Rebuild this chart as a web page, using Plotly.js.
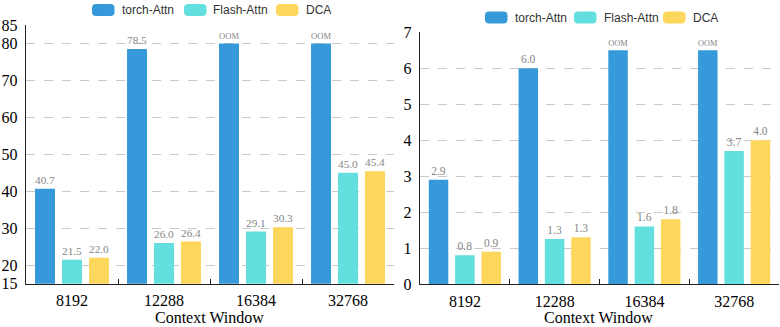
<!DOCTYPE html>
<html>
<head>
<meta charset="utf-8">
<script src="https://cdn.plot.ly/plotly-3.0.1.min.js"></script>
<style>html,body{margin:0;padding:0;background:#fff;}#chart{width:780px;height:327px;}</style>
</head>
<body>
<div id="chart"></div>
<script>
// ---- data ----
const categories = ['8192', '12288', '16384', '32768'];
const seriesNames = ['torch-Attn', 'Flash-Attn', 'DCA'];

const leftTorch = [40.7, 78.5, 80, 80];
const leftTorchText = ['40.7', '78.5', 'OOM', 'OOM'];
const leftFlash = [21.5, 26.0, 29.1, 45.0];
const leftFlashText = ['21.5', '26.0', '29.1', '45.0'];
const leftDCA = [22.0, 26.4, 30.3, 45.4];
const leftDCAText = ['22.0', '26.4', '30.3', '45.4'];

const rightTorch = [2.9, 6.0, 6.5, 6.5];
const rightTorchText = ['2.9', '6.0', 'OOM', 'OOM'];
const rightFlash = [0.8, 1.25, 1.6, 3.7];
const rightFlashText = ['0.8', '1.3', '1.6', '3.7'];
const rightDCA = [0.9, 1.3, 1.8, 4.0];
const rightDCAText = ['0.9', '1.3', '1.8', '4.0'];

const leftTickVals = [15, 20, 30, 40, 50, 60, 70, 80, 85];
const rightTickVals = [0, 1, 2, 3, 4, 5, 6, 7];
const xTitle = 'Context Window';

// ---- style ----
const colors = ['#369ADA', '#62DFDE', '#FDD65C'];
const W = 780, H = 327;
const px = x => x / W;
const py = y => 1 - y / H;
const serif = "'Liberation Serif', serif";
const sans = "'Liberation Sans', sans-serif";

function bar(name, y, text, i, xa, ya) {
  return {
    type: 'bar', name: name, x: categories, y: y, text: text,
    xaxis: xa, yaxis: ya, showlegend: false,
    marker: {color: colors[i], line: {width: 0}},
    textposition: 'outside', cliponaxis: false,
    textfont: {family: serif, size: 11.5, color: '#858585'},
    hoverinfo: 'x+y'
  };
}

const traces = [
  bar(seriesNames[0], leftTorch, leftTorchText, 0, 'x', 'y'),
  bar(seriesNames[1], leftFlash, leftFlashText, 1, 'x', 'y'),
  bar(seriesNames[2], leftDCA, leftDCAText, 2, 'x', 'y'),
  bar(seriesNames[0], rightTorch, rightTorchText, 0, 'x2', 'y2'),
  bar(seriesNames[1], rightFlash, rightFlashText, 1, 'x2', 'y2'),
  bar(seriesNames[2], rightDCA, rightDCAText, 2, 'x2', 'y2')
];

// custom legends (rounded swatches)
function roundRect(x0, y0, x1, y1, r) {
  const X = v => px(v), Y = v => py(v);
  return `M${X(x0 + r)},${Y(y0)} L${X(x1 - r)},${Y(y0)} Q${X(x1)},${Y(y0)} ${X(x1)},${Y(y0 + r)} ` +
         `L${X(x1)},${Y(y1 - r)} Q${X(x1)},${Y(y1)} ${X(x1 - r)},${Y(y1)} ` +
         `L${X(x0 + r)},${Y(y1)} Q${X(x0)},${Y(y1)} ${X(x0)},${Y(y1 - r)} ` +
         `L${X(x0)},${Y(y0 + r)} Q${X(x0)},${Y(y0)} ${X(x0 + r)},${Y(y0)} Z`;
}
const legendDefs = [
  {cy: 10, swatches: [92, 184, 276]},
  {cy: 17.5, swatches: [485, 574, 663]}
];
const shapes = [];
const annotations = [];
legendDefs.forEach(L => {
  L.swatches.forEach((sx, i) => {
    shapes.push({type: 'path', xref: 'paper', yref: 'paper',
      path: roundRect(sx, L.cy - 6, sx + 22.5, L.cy + 6, 4),
      fillcolor: colors[i], line: {width: 0}});
    annotations.push({xref: 'paper', yref: 'paper', x: px(sx + 27.5), y: py(L.cy),
      xanchor: 'left', yanchor: 'middle', showarrow: false, text: seriesNames[i],
      font: {family: sans, size: 12, color: '#333'}});
  });
});
// axis titles
annotations.push({xref: 'paper', yref: 'paper', x: px(209), y: py(317), xanchor: 'center', yanchor: 'middle',
  showarrow: false, text: xTitle, font: {family: serif, size: 16, color: '#000'}});
annotations.push({xref: 'paper', yref: 'paper', x: px(598), y: py(317), xanchor: 'center', yanchor: 'middle',
  showarrow: false, text: xTitle, font: {family: serif, size: 16, color: '#000'}});

function xAxis(domain, anchor) {
  return {
    type: 'category', tickson: 'boundaries', ticks: 'inside', ticklen: 5, tickwidth: 1,
    tickcolor: '#222', showline: true, linecolor: '#222', linewidth: 1.3,
    showgrid: false, zeroline: false, automargin: false, fixedrange: true,
    tickfont: {family: serif, size: 16, color: '#000'}, ticklabelstandoff: 2,
    domain: domain, anchor: anchor
  };
}
function yAxis(domain, anchor, range, vals) {
  return {
    showline: true, linecolor: '#222', linewidth: 1.3, ticks: '', zeroline: false,
    showgrid: true, gridcolor: '#c9c9c9', griddash: 'dash', gridwidth: 1,
    automargin: false, fixedrange: true, ticklabelstandoff: 4,
    tickfont: {family: serif, size: 16, color: '#000'},
    domain: domain, anchor: anchor, range: range, tickmode: 'array', tickvals: vals
  };
}

const layout = {
  width: W, height: H,
  margin: {l: 0, r: 0, t: 0, b: 0},
  paper_bgcolor: '#fff', plot_bgcolor: '#fff',
  font: {family: serif},
  barmode: 'group', bargap: 0.12, bargroupgap: 0.26,
  showlegend: false,
  xaxis: xAxis([px(26), px(394)], 'y'),
  yaxis: yAxis([py(283.7), py(25)], 'x', [15, 85], leftTickVals),
  xaxis2: xAxis([px(420), px(779)], 'y2'),
  yaxis2: yAxis([py(284), py(32.3)], 'x2', [0, 7], rightTickVals),
  shapes: shapes,
  annotations: annotations
};

Plotly.newPlot('chart', traces, layout, {displayModeBar: false, staticPlot: true});
</script>
</body>
</html>
